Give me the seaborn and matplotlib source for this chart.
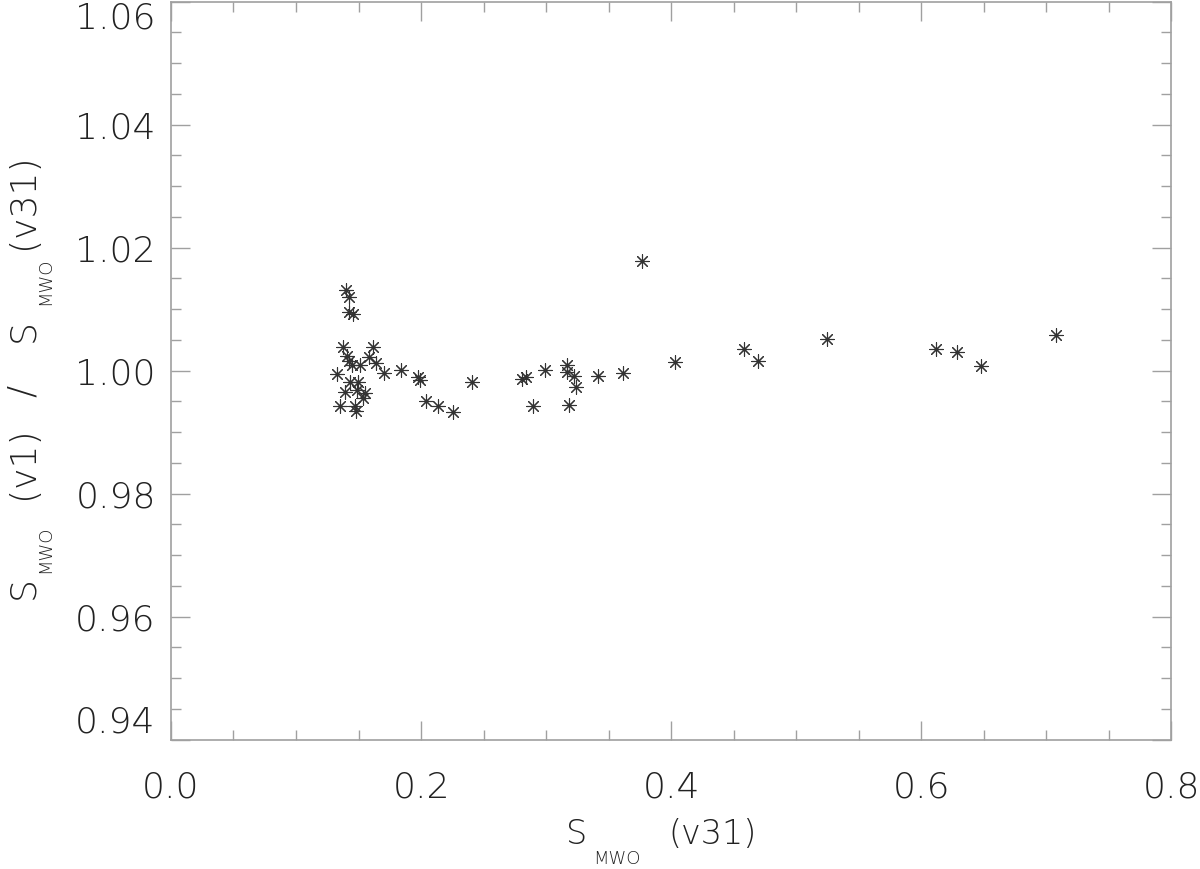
import numpy as np
import pandas as pd
import matplotlib
matplotlib.use("Agg")
import matplotlib.pyplot as plt
import seaborn as sns
from matplotlib.ticker import MultipleLocator

# ---- data ----
s_v31 = [0.140, 0.1426, 0.1426, 0.1454, 0.1378, 0.1614, 0.1406, 0.1426, 0.1446,
         0.1512, 0.1586, 0.1640, 0.1704, 0.1840, 0.1330, 0.1432, 0.1498, 0.1978,
         0.1992, 0.2406, 0.1486, 0.1392, 0.1552, 0.1534, 0.1352, 0.1472, 0.1480,
         0.2040, 0.2138, 0.2254, 0.2806, 0.2840, 0.2992, 0.3166, 0.3166, 0.3224,
         0.3240, 0.2894, 0.3186, 0.3418, 0.3618, 0.3766, 0.4032, 0.4584, 0.4698,
         0.5250, 0.6120, 0.6290, 0.6478, 0.7080]
ratio = [1.0132, 1.0120, 1.0096, 1.0093, 1.0039, 1.0039, 1.0024, 1.0016, 1.0010,
         1.0010, 1.0023, 1.0013, 0.9997, 1.0001, 0.9995, 0.9981, 0.9981, 0.9989,
         0.9985, 0.9981, 0.9969, 0.9966, 0.9964, 0.9955, 0.9943, 0.9943, 0.9935,
         0.9950, 0.9943, 0.9933, 0.9986, 0.9990, 1.0001, 1.0009, 0.9998, 0.9991,
         0.9973, 0.9943, 0.9944, 0.9991, 0.9996, 1.0179, 1.0014, 1.0035, 1.0015,
         1.0051, 1.0036, 1.0030, 1.0007, 1.0058]

x_ticks = [0.0, 0.2, 0.4, 0.6, 0.8]
x_ticklabels = ["0.0", "0.2", "0.4", "0.6", "0.8"]
y_ticks = [0.94, 0.96, 0.98, 1.00, 1.02, 1.04, 1.06]
y_ticklabels = ["0.94", "0.96", "0.98", "1.00", "1.02", "1.04", "1.06"]

# axis title pieces: (text, is_subscript)
xlabel_parts = [("S", False), ("MWO", True), ("(v31)", False)]
ylabel_parts = [("S", False), ("MWO", True), ("(v1)", False), ("/", False),
                ("S", False), ("MWO", True), ("(v31)", False)]

df = pd.DataFrame({"x": s_v31, "y": ratio})

sns.set_theme(style="white")
plt.rcParams["font.family"] = ["DejaVu Sans"]
AXCOL = "#a0a0a0"
TXT = "#222222"
W, H = 1200, 869

fig = plt.figure(figsize=(12, 8.69), dpi=100)
ax = fig.add_axes([171 / W, 1 - 739.7 / H, 1000 / W, 738 / H])

sns.scatterplot(data=df, x="x", y="y", ax=ax, marker=(8, 2, 0), s=95,
                color="#333333", linewidth=0.8, edgecolor="#333333", legend=False)

ax.set_xlim(0.0, 0.8)
ax.set_ylim(0.94, 1.06)
ax.set_xticks(x_ticks)
ax.set_xticklabels(x_ticklabels, fontweight="light")
ax.set_yticks(y_ticks)
ax.set_yticklabels(y_ticklabels, fontweight="light")
ax.xaxis.set_minor_locator(MultipleLocator(0.05))
ax.yaxis.set_minor_locator(MultipleLocator(0.005))

for sp in ax.spines.values():
    sp.set_color(AXCOL)
    sp.set_linewidth(1.2)
ax.tick_params(which="both", direction="in", top=True, right=True,
               bottom=True, left=True, color=AXCOL, width=1.0,
               labelsize=26, labelcolor=TXT)
ax.tick_params(which="major", length=14)
ax.tick_params(which="minor", length=7)
ax.tick_params(axis="x", which="major", pad=22)
ax.tick_params(axis="y", which="major", pad=11)
ax.set_xlabel("")
ax.set_ylabel("")

# first and last y labels are kept inside the frame
for tick in ax.yaxis.get_major_ticks():
    t = tick.label1.get_text()
    if t == "0.94":
        tick.label1.set_va("bottom")
    elif t == "1.06":
        tick.label1.set_va("top")

# ---- axis titles, built piece by piece (big lowered subscripts) ----
# x title: left edge of each piece (px), baseline (px from top)
x_pos = [566, 593, 668]
x_base = [844, 864, 844]
for (txt, sub), px, py in zip(xlabel_parts, x_pos, x_base):
    fig.text(px / W, 1 - py / H, txt, fontsize=13 if sub else 24,
             color=TXT, fontweight="light", ha="left", va="baseline")

# y title (rotated): start of each piece (px from top), baseline x (px)
y_pos = [599, 573, 499, 397, 342, 305, 249]
y_base = [33, 50, 33, 33, 33, 50, 33]
for (txt, sub), py, px in zip(ylabel_parts, y_pos, y_base):
    fig.text(px / W, 1 - py / H, txt, fontsize=13 if sub else 26,
             color=TXT, fontweight="light", rotation=90,
             rotation_mode="anchor", ha="left", va="baseline")

fig.savefig("out.png", dpi=100)
